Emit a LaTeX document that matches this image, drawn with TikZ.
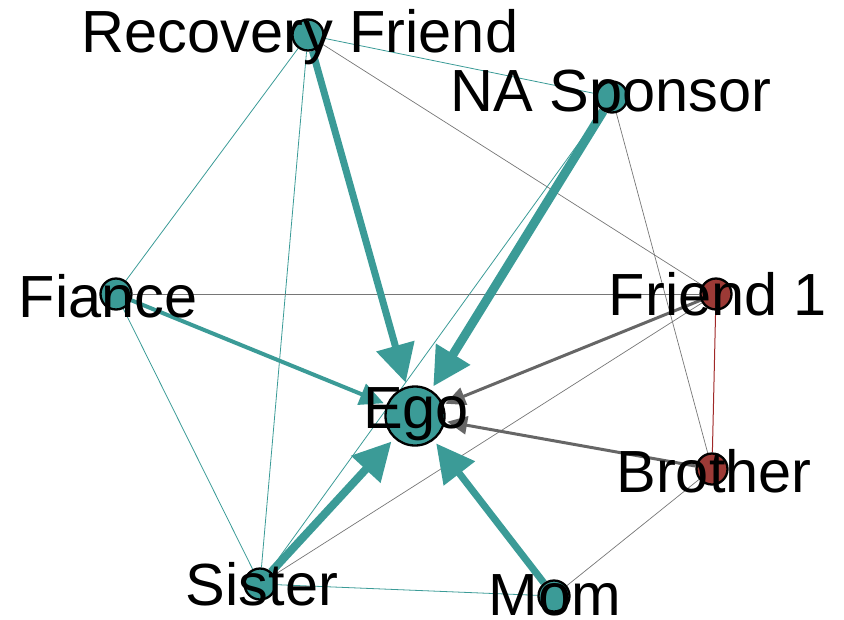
\documentclass[tikz,border=0pt]{standalone}
\usepackage{fontspec}
\setmainfont{Liberation Sans}
\usetikzlibrary{arrows.meta}
\definecolor{tealnode}{RGB}{59,155,151}
\definecolor{rednode}{RGB}{156,58,54}
\definecolor{tiegray}{RGB}{102,102,102}
\definecolor{thingray}{RGB}{118,118,118}
\definecolor{tiered}{RGB}{160,40,40}
\pgfdeclarelayer{background}
\pgfdeclarelayer{foreground}
\pgfsetlayers{background,main,foreground}

\begin{document}
\begin{tikzpicture}[x=1pt,y=-1pt,
  person/.style={circle,draw=black,line width=2.3pt,inner sep=0pt,minimum size=31pt,fill=tealnode},
  kinnode/.style={person,fill=rednode},
  egonode/.style={person,minimum size=59pt},
  lbl/.style={anchor=base,inner sep=0pt,font=\fontsize{59.5}{60}\selectfont,text=black},
  tieteal/.style={draw=tealnode,line width=0.8pt},
  tiegrey/.style={draw=thingray,line width=0.7pt},
  tiekin/.style={draw=tiered,line width=1pt},
  bigarrow/.style={draw=tealnode,line width=#1,-{Triangle[length=38pt,width=38pt]},shorten >=4pt},
  midarrow/.style={draw=tealnode,line width=#1,-{Triangle[length=24pt,width=22pt]},shorten >=3pt},
  greyarrow/.style={draw=tiegray,line width=#1,-{Triangle[length=20pt,width=18pt]},shorten >=2pt}
]
\useasboundingbox (0,0) rectangle (844,619);

% people
\node[person]  (rf)  at (308,35)  {};
\node[person]  (na)  at (612,97)  {};
\node[person]  (fi)  at (116,294) {};
\node[kinnode] (f1)  at (716,294) {};
\node[egonode] (ego) at (415,416) {};
\node[kinnode] (br)  at (712,469) {};
\node[person]  (si)  at (260,584) {};
\node[person]  (mo)  at (554,596) {};

% ties between alters
\begin{pgfonlayer}{background}
  \draw[tieteal] (rf) -- (na);
  \draw[tieteal] (rf) -- (fi);
  \draw[tieteal] (rf) -- (si);
  \draw[tiegrey] (rf) -- (f1);
  \draw[tiegrey] (na) -- (br);
  \draw[tieteal] (na) -- (si);
  \draw[tiegrey] (fi) -- (f1);
  \draw[tieteal] (fi) -- (si);
  \draw[tiekin]  (f1) -- (br);
  \draw[tiegrey] (f1) -- (si);
  \draw[tiegrey] (br) -- (mo);
  \draw[tieteal] (si) -- (mo);

  % ties to ego
  \draw[bigarrow=7pt] (rf) -- (ego);
  \draw[bigarrow=9pt] (na) -- (ego);
  \draw[bigarrow=8pt] (si) -- (ego);
  \draw[bigarrow=7pt] (mo) -- (ego);
  \draw[midarrow=4pt] (fi) -- (ego);
  \draw[greyarrow=3pt] (f1) -- (ego);
  \draw[greyarrow=3pt] (br) -- (ego);
\end{pgfonlayer}

% names
\begin{pgfonlayer}{foreground}
  \node[lbl] (rflbl)  at (300,52)  {Recovery Friend};
  \node[lbl] (nalbl)  at (611,111) {NA Sponsor};
  \node[lbl] (filbl)  at (108,317) {Fiance};
  \node[lbl] (f1lbl)  at (718,315) {Friend 1};
  \node[lbl] (egolbl) at (416,428) {Ego};
  \node[lbl] (brlbl)  at (714,492) {Brother};
  \node[lbl] (silbl)  at (262,605) {Sister};
  \node[lbl] (molbl)  at (555,615) {Mom};
\end{pgfonlayer}
\end{tikzpicture}
\end{document}
